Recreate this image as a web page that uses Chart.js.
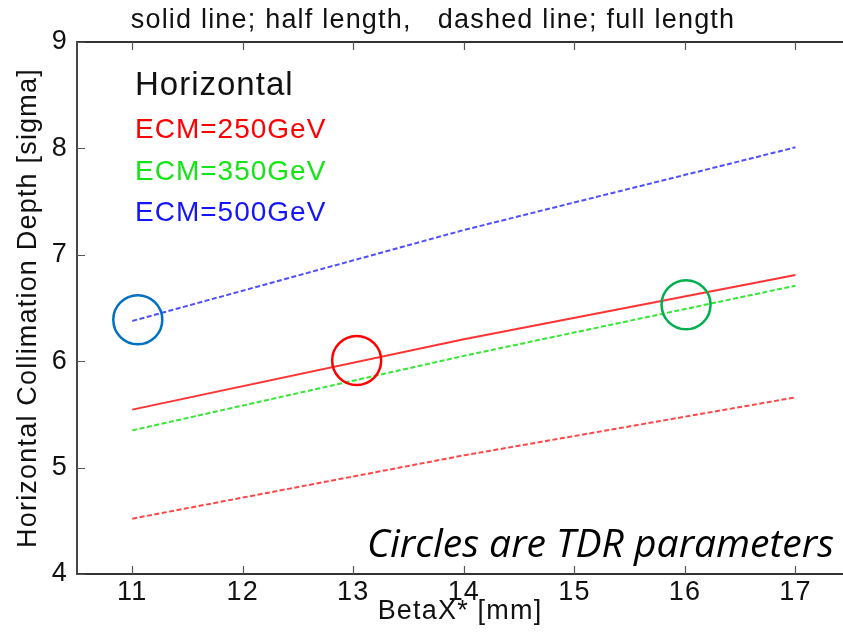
<!DOCTYPE html>
<html>
<head>
<meta charset="utf-8">
<script src="https://cdn.jsdelivr.net/npm/chart.js@4"></script>
<style>
  html, body { margin: 0; background: #fff; }
  #wrap { width: 843px; height: 633px; }
</style>
</head>
<body>
<div id="wrap"><canvas id="chart" width="843" height="633"></canvas></div>
<script>
// Horizontal collimation depth vs BetaX*, one line per ECM
const betaPts = [11, 14, 17];
const depth250Half = [5.545, 6.206, 6.81];   // solid: half length
const depth250Full = [4.52, 5.115, 5.66];    // dashed: full length
const depth350Full = [5.35, 6.05, 6.71];
const depth500Full = [6.378, 7.233, 8.01];

// TDR parameters (circled)
const tdrBeta = [11.05, 13.03, 16.01];
const tdrDepth = [6.39, 6.006, 6.53];
const tdrColors = ["#0070c0", "#ff0000", "#00b050"];

const xTicks = [11, 12, 13, 14, 15, 16, 17];
const yTicks = [4, 5, 6, 7, 8, 9];

const titleText = "solid line; half length,   dashed line; full length";
const legendTitle = "Horizontal";
const legendLabels = ["ECM=250GeV", "ECM=350GeV", "ECM=500GeV"];
const legendColors = ["#ff0000", "#14e614", "#1414ff"];
const noteText = "Circles are TDR parameters";

const FONT = '"Liberation Sans", Arial, sans-serif';
const pts = (ys) => betaPts.map((b, i) => ({ x: b, y: ys[i] }));

const frame = {
  id: "frame",
  beforeUpdate: (chart) => { chart.ctx.letterSpacing = "1.2px"; },
  beforeDraw: (chart) => { chart.ctx.letterSpacing = "1.2px"; },
  afterDraw: (chart) => {
    const { ctx, chartArea: a, scales: { x, y } } = chart;
    ctx.save();
    // box: left, top, bottom (right edge is cut off in the original)
    ctx.strokeStyle = "#333"; ctx.lineWidth = 1.8;
    ctx.beginPath();
    ctx.moveTo(a.right, a.top); ctx.lineTo(a.left, a.top);
    ctx.lineTo(a.left, a.bottom); ctx.lineTo(a.right, a.bottom);
    ctx.stroke();
    // inward tick marks
    ctx.lineWidth = 1.2; ctx.strokeStyle = "#555";
    ctx.beginPath();
    xTicks.forEach((v) => {
      const px = Math.round(x.getPixelForValue(v)) + 0.5;
      ctx.moveTo(px, a.top); ctx.lineTo(px, a.top + 8);
      ctx.moveTo(px, a.bottom); ctx.lineTo(px, a.bottom - 8);
    });
    yTicks.forEach((v) => {
      const py = Math.round(y.getPixelForValue(v)) + 0.5;
      ctx.moveTo(a.left, py); ctx.lineTo(a.left + 8, py);
    });
    ctx.stroke();

    ctx.textBaseline = "alphabetic";
    ctx.letterSpacing = "1.2px";
    ctx.fillStyle = "#111";
    ctx.textAlign = "center";
    ctx.font = `27px ${FONT}`;
    ctx.fillText(titleText, 433, 28);

    ctx.textAlign = "left";
    ctx.letterSpacing = "1px";
    ctx.font = `33px ${FONT}`;
    ctx.fillText(legendTitle, 135, 95);
    ctx.font = `28px ${FONT}`;
    legendLabels.forEach((t, i) => {
      ctx.fillStyle = legendColors[i];
      ctx.fillText(t, 135, 138 + i * 41.5);
    });

    ctx.letterSpacing = "0px";
    ctx.fillStyle = "#000";
    ctx.textAlign = "right";
    ctx.font = `italic 39px "Open Sans", sans-serif`;
    ctx.fillText(noteText, 834, 557);
    ctx.restore();
  },
};

new Chart(document.getElementById("chart"), {
  type: "line",
  data: {
    datasets: [
      {
        label: "TDR", data: tdrBeta.map((b, i) => ({ x: b, y: tdrDepth[i] })),
        showLine: false, pointRadius: 24.5, pointBorderWidth: 2.5,
        pointBackgroundColor: "rgba(0,0,0,0)", pointBorderColor: tdrColors,
      },
      { label: "250 half", data: pts(depth250Half), borderColor: "rgba(255,40,40,0.95)",
        borderWidth: 2, pointRadius: 0 },
      { label: "250 full", data: pts(depth250Full), borderColor: "rgba(255,50,50,0.9)",
        borderWidth: 2, borderDash: [5, 2.5], pointRadius: 0 },
      { label: "350 full", data: pts(depth350Full), borderColor: "rgba(40,230,40,0.95)",
        borderWidth: 2, borderDash: [5, 2.5], pointRadius: 0 },
      { label: "500 full", data: pts(depth500Full), borderColor: "rgba(60,60,255,0.9)",
        borderWidth: 2, borderDash: [5, 2.5], pointRadius: 0 },
    ],
  },
  options: {
    responsive: false,
    animation: false,
    events: [],
    layout: { autoPadding: false, padding: { top: 42, left: 0, right: 0, bottom: 0 } },
    plugins: { legend: { display: false }, tooltip: { enabled: false } },
    scales: {
      x: {
        type: "linear", min: 10.5, max: 17.43,
        afterBuildTicks: (s) => { s.ticks = xTicks.map((v) => ({ value: v })); },
        afterFit: (s) => { s.height = 59; s.paddingLeft = 0; s.paddingRight = 0; },
        grid: { display: false }, border: { display: false },
        ticks: { color: "#111", font: { family: FONT, size: 27 }, padding: -6 },
        title: { display: true, text: "BetaX* [mm]", color: "#111",
                 font: { family: FONT, size: 27 }, padding: { top: 0, bottom: 5 } },
      },
      y: {
        min: 4, max: 9,
        afterBuildTicks: (s) => { s.ticks = yTicks.map((v) => ({ value: v })); },
        afterFit: (s) => { s.width = 77; s.paddingTop = 0; s.paddingBottom = 0; },
        grid: { display: false }, border: { display: false },
        ticks: { color: "#111", font: { family: FONT, size: 27 }, padding: 1 },
        title: { display: true, text: "Horizontal Collimation Depth [sigma]", color: "#111",
                 font: { family: FONT, size: 27 }, padding: { top: 12, bottom: 0 } },
      },
    },
  },
  plugins: [frame],
});
</script>
</body>
</html>
